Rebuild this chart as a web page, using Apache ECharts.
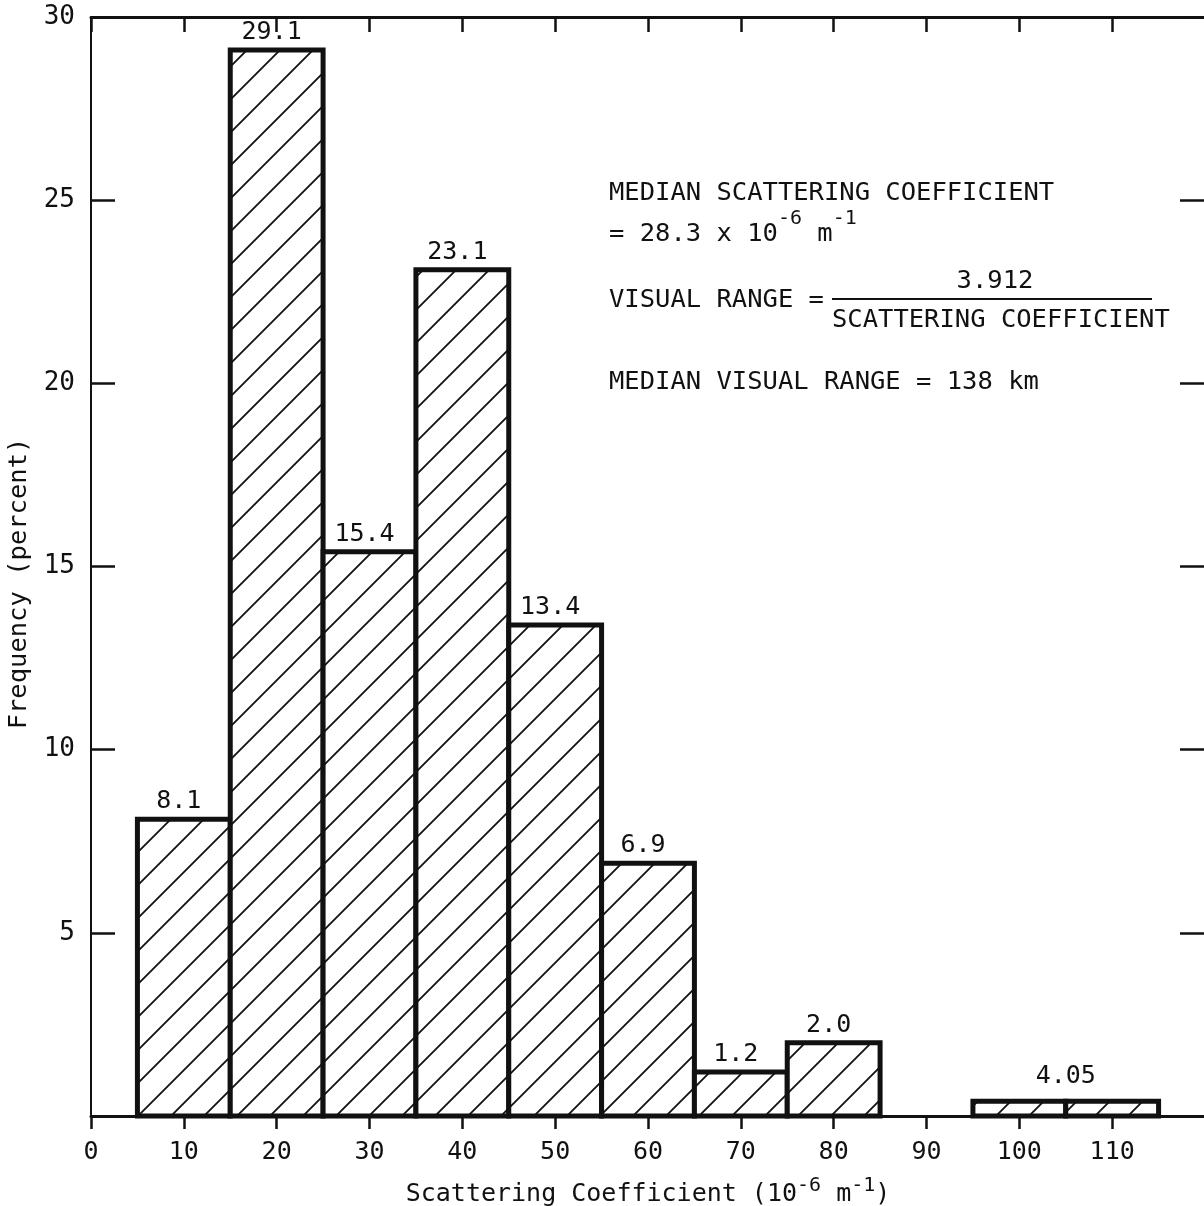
<!DOCTYPE html>
<html>
<head>
<meta charset="utf-8">
<script src="https://cdn.jsdelivr.net/npm/echarts@6/dist/echarts.min.js"></script>
<style>
  html, body { margin: 0; padding: 0; background: #ffffff; }
  #chart { width: 1204px; height: 1206px; }
</style>
</head>
<body>
<div id="chart"></div>
<script>
// Histogram bins of the scattering coefficient (10^-6 m^-1) and their frequency (percent)
const binStart  = [5, 15, 25, 35, 45, 55, 65, 75, 95, 105];
const binEnd    = [15, 25, 35, 45, 55, 65, 75, 85, 105, 115];
const frequency = [8.1, 29.1, 15.4, 23.1, 13.4, 6.9, 1.2, 2.0, 0.4, 0.4];
const barLabels = ['8.1', '29.1', '15.4', '23.1', '13.4', '6.9', '1.2', '2.0', '', ''];

// One label written over the pair of bins at the high end
const tailLabelX = 105;
const tailLabelY = 0.4;
const tailLabelText = '4.05';

// Tick labels
const xTickLabels = [0, 10, 20, 30, 40, 50, 60, 70, 80, 90, 100, 110];
const yTickLabels = [5, 10, 15, 20, 25, 30];

const FONT = 'DejaVu Sans Mono';
const INK = '#111111';
const NOTE_FONT = '25.5px "' + FONT + '"';
const BAR_FONT = '25px "' + FONT + '"';

// Diagonal "/" hatch used to fill the bars
function makeHatch(size, width) {
  const c = document.createElement('canvas');
  c.width = size; c.height = size;
  const g = c.getContext('2d');
  g.fillStyle = '#ffffff';
  g.fillRect(0, 0, size, size);
  g.strokeStyle = INK;
  g.lineWidth = width;
  g.beginPath();
  g.moveTo(-2, size + 2); g.lineTo(size + 2, -2);
  g.moveTo(-2 - size, size + 2); g.lineTo(2, -2);
  g.moveTo(size - 2, size + 2); g.lineTo(2 * size + 2, -2);
  g.stroke();
  return c;
}
const hatch = makeHatch(33, 1.8);

const barData = binStart.map((s, i) => [s, binEnd[i], frequency[i]]);

const chart = echarts.init(document.getElementById('chart'), null, { renderer: 'canvas' });

const option = {
  backgroundColor: '#ffffff',
  animation: false,
  // the frame's right edge (x = 120) falls on the page edge
  grid: { left: 91, top: 17, width: 1114, height: 1099, containLabel: false, outerBoundsMode: 'none' },
  xAxis: [
    {
      type: 'value', position: 'bottom', min: 0, max: 120, interval: 10,
      splitLine: { show: false },
      axisLine: { show: true, onZero: false, lineStyle: { color: INK, width: 3 } },
      axisTick: { show: true, inside: false, length: 13, lineStyle: { color: INK, width: 2.5 } },
      axisLabel: {
        show: true, margin: 24, color: INK, fontFamily: FONT, fontSize: 25,
        formatter: v => (xTickLabels.indexOf(v) >= 0 ? String(v) : '')
      },
      name: 'Scattering Coefficient (10{s|-6} m{s|-1})',
      nameLocation: 'middle', nameGap: 60,
      nameTextStyle: {
        color: INK, fontFamily: FONT, fontSize: 25, lineHeight: 36,
        rich: { s: { color: INK, fontFamily: FONT, fontSize: 20, lineHeight: 36, verticalAlign: 'top' } }
      }
    },
    {
      type: 'value', position: 'top', min: 0, max: 120, interval: 10,
      splitLine: { show: false },
      axisLine: { show: true, onZero: false, lineStyle: { color: INK, width: 3 } },
      axisTick: { show: true, inside: true, length: 15, lineStyle: { color: INK, width: 2.5 } },
      axisLabel: { show: false }
    }
  ],
  yAxis: [
    {
      type: 'value', position: 'left', min: 0, max: 30, interval: 5,
      splitLine: { show: false },
      axisLine: { show: true, onZero: false, lineStyle: { color: INK, width: 2 } },
      axisTick: { show: true, inside: true, length: 24, lineStyle: { color: INK, width: 2.5 } },
      axisLabel: {
        show: true, margin: 16, color: INK, fontFamily: FONT, fontSize: 26,
        formatter: v => (yTickLabels.indexOf(v) >= 0 ? String(v) : '')
      },
      name: 'Frequency (percent)',
      nameLocation: 'middle', nameGap: 56,
      nameTextStyle: { color: INK, fontFamily: FONT, fontSize: 25.5, padding: [0, 34, 0, 0] }
    },
    {
      type: 'value', position: 'right', min: 0, max: 30, interval: 5,
      splitLine: { show: false },
      axisLine: { show: false, onZero: false },
      axisTick: { show: true, inside: true, length: 25, lineStyle: { color: INK, width: 2.5 } },
      axisLabel: { show: false }
    }
  ],
  series: [
    {
      type: 'custom',
      xAxisIndex: 0, yAxisIndex: 0,
      clip: false,
      data: barData,
      renderItem: function (params, api) {
        const x0 = api.value(0), x1 = api.value(1), h = api.value(2);
        const lab = barLabels[params.dataIndex];
        const p0 = api.coord([x0, h]);
        const p1 = api.coord([x1, 0]);
        const children = [{
          type: 'rect',
          shape: { x: p0[0], y: p0[1], width: p1[0] - p0[0], height: p1[1] - p0[1] },
          style: { fill: { image: hatch, repeat: 'repeat' }, stroke: INK, lineWidth: 5, lineJoin: 'miter' }
        }];
        if (lab) {
          children.push({
            type: 'text',
            x: (p0[0] + p1[0]) / 2 - 5, y: p0[1] - 5,
            style: { text: lab, fill: INK, font: BAR_FONT, align: 'center', verticalAlign: 'bottom' }
          });
        }
        return { type: 'group', children: children };
      }
    },
    {
      type: 'custom',
      xAxisIndex: 0, yAxisIndex: 0,
      clip: false,
      data: [[tailLabelX, tailLabelY]],
      renderItem: function (params, api) {
        const p = api.coord([api.value(0), api.value(1)]);
        return {
          type: 'text', x: p[0], y: p[1] - 12,
          style: { text: tailLabelText, fill: INK, font: BAR_FONT, align: 'center', verticalAlign: 'bottom' }
        };
      }
    }
  ],
  graphic: [
    {
      type: 'text', x: 609, y: 193,
      style: { text: 'MEDIAN SCATTERING COEFFICIENT', fill: INK, font: NOTE_FONT, verticalAlign: 'middle' }
    },
    {
      type: 'text', x: 609, y: 209,
      style: {
        text: '{b|= 28.3 x 10}{s|-6}{b| m}{s|-1}',
        verticalAlign: 'top',
        rich: {
          b: { fill: INK, fontFamily: FONT, fontSize: 25.5, lineHeight: 38, verticalAlign: 'bottom' },
          s: { fill: INK, fontFamily: FONT, fontSize: 20, lineHeight: 38, verticalAlign: 'top' }
        }
      }
    },
    {
      type: 'text', x: 609, y: 300,
      style: { text: 'VISUAL RANGE =', fill: INK, font: NOTE_FONT, verticalAlign: 'middle' }
    },
    {
      type: 'text', x: 995, y: 281,
      style: { text: '3.912', fill: INK, font: NOTE_FONT, align: 'center', verticalAlign: 'middle' }
    },
    {
      type: 'line',
      shape: { x1: 832, y1: 299, x2: 1152, y2: 299 },
      style: { stroke: INK, lineWidth: 2 }
    },
    {
      type: 'text', x: 832, y: 320,
      style: { text: 'SCATTERING COEFFICIENT', fill: INK, font: NOTE_FONT, verticalAlign: 'middle' }
    },
    {
      type: 'text', x: 609, y: 382,
      style: { text: 'MEDIAN VISUAL RANGE = 138 km', fill: INK, font: NOTE_FONT, verticalAlign: 'middle' }
    }
  ]
};

chart.setOption(option);
</script>
</body>
</html>
